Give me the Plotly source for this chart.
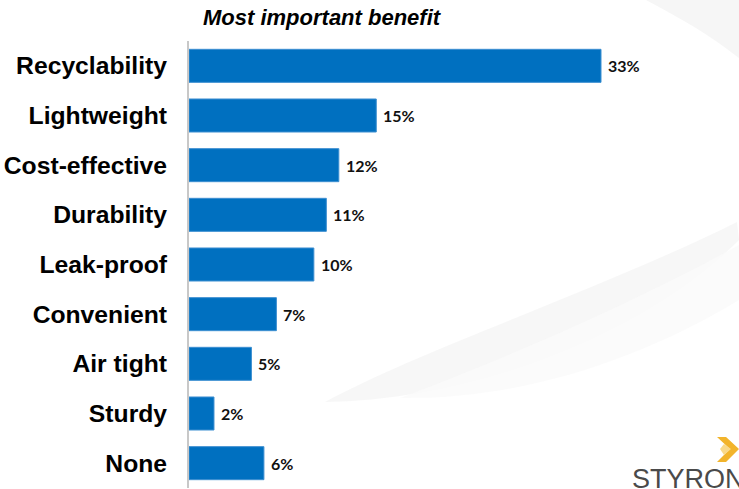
import plotly.graph_objects as go

# Survey results: most important benefit (share of respondents, %)
categories = ["Recyclability", "Lightweight", "Cost-effective", "Durability",
              "Leak-proof", "Convenient", "Air tight", "Sturdy", "None"]
shares = [33, 15, 12, 11, 10, 7, 5, 2, 6]
value_labels = [f"{v}%" for v in shares]

W, H = 739, 489
L, R, T, B = 189, 0, 41, 1
PW, PH = W - L - R, H - T - B


def px(x):
    return (x - L) / PW


def py(y):
    return (H - B - y) / PH


def p(x, y):
    return f"{px(x):.4f},{py(y):.4f}"


fig = go.Figure()
fig.add_trace(go.Bar(
    x=shares,
    y=categories,
    orientation="h",
    marker=dict(color="#0070C0", line=dict(color="#3D8FD1", width=1)),
    hoverinfo="skip",
))

annotations = []
for cat, v, lab in zip(categories, shares, value_labels):
    annotations.append(dict(
        x=v, y=cat, xref="x", yref="y", text=f"<b>{lab}</b>",
        showarrow=False, xanchor="left", yanchor="middle", xshift=5,
        font=dict(family="Lato", size=16, color="#111111"),
    ))

# chart title
annotations.append(dict(
    x=px(322), y=py(17), xref="paper", yref="paper",
    text="<b><i>Most important benefit</i></b>", showarrow=False,
    xanchor="center", yanchor="middle",
    font=dict(family="Liberation Sans", size=22, color="#000000"),
))

# company wordmark, bottom right
annotations.append(dict(
    x=px(630), y=py(479), xref="paper", yref="paper",
    text="STYRON", showarrow=False, xanchor="left", yanchor="middle",
    font=dict(family="Liberation Sans", size=27, color="#4a4a4a"),
))

shapes = []
# faint background swooshes
shapes.append(dict(
    type="path", xref="paper", yref="paper", layer="below",
    path=(f"M {p(325, 402)} C {p(420, 350)} {p(600, 290)} {p(737, 222)} "
          f"L {p(739, 240)} C {p(650, 330)} {p(480, 400)} {p(325, 402)} Z"),
    fillcolor="#f4f4f4", line=dict(width=0), opacity=0.75,
))
shapes.append(dict(
    type="path", xref="paper", yref="paper", layer="below",
    path=(f"M {p(400, 398)} C {p(500, 360)} {p(620, 310)} {p(739, 245)} "
          f"L {p(739, 300)} C {p(640, 360)} {p(520, 400)} {p(400, 398)} Z"),
    fillcolor="#fafafa", line=dict(width=0), opacity=0.8,
))
shapes.append(dict(
    type="path", xref="paper", yref="paper", layer="below",
    path=(f"M {p(646, 0)} L {p(739, 0)} L {p(739, 58)} "
          f"C {p(710, 35)} {p(680, 18)} {p(646, 0)} Z"),
    fillcolor="#f6f6f6", line=dict(width=0),
))
# logo chevron
shapes.append(dict(
    type="path", xref="paper", yref="paper", layer="above",
    path=(f"M {p(717, 437)} L {p(726, 437)} L {p(739, 449)} L {p(726, 462)} "
          f"L {p(717, 462)} L {p(730, 449)} Z"),
    fillcolor="#F2B42C", line=dict(width=0),
))
shapes.append(dict(
    type="path", xref="paper", yref="paper", layer="above",
    path=(f"M {p(724, 444)} L {p(731, 449)} L {p(724, 455)} L {p(720, 449)} Z"),
    fillcolor="#F9D98A", line=dict(width=0),
))

fig.update_layout(
    width=W, height=H,
    margin=dict(l=L, r=R, t=T, b=B, pad=0),
    paper_bgcolor="#ffffff", plot_bgcolor="rgba(0,0,0,0)",
    bargap=0.335,
    showlegend=False,
    annotations=annotations,
    shapes=shapes,
    xaxis=dict(range=[0, PW / 12.485], visible=False, fixedrange=True),
    yaxis=dict(
        autorange="reversed", showgrid=False, zeroline=False,
        showline=True, linecolor="#c8c8c8", linewidth=2,
        ticks="", ticklabelstandoff=15,
        tickfont=dict(family="Liberation Sans", size=24.7, color="#000000",
                      weight="bold"),
        fixedrange=True,
    ),
)

fig.write_html("out.html")
